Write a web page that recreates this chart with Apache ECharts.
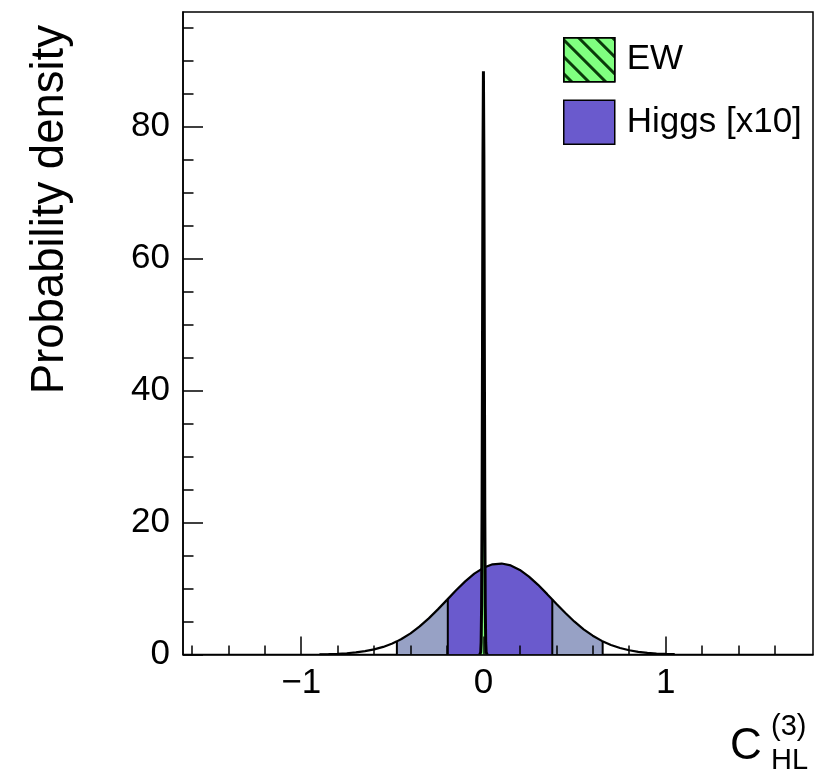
<!DOCTYPE html>
<html><head><meta charset="utf-8">
<script src="https://cdn.jsdelivr.net/npm/echarts@6/dist/echarts.min.js"></script>
<style>html,body{margin:0;padding:0;background:#fff}#c{width:826px;height:780px}</style>
</head><body><div id="c"></div>
<script>
// Higgs posterior (scaled x10)
const higgsX = [-0.9,-0.85,-0.8,-0.75,-0.7,-0.65,-0.6,-0.55,-0.5,-0.475,-0.45,-0.4,-0.35,-0.3,-0.25,-0.2,-0.1955,-0.15,-0.1,-0.05,0,0.05,0.1,0.15,0.2,0.25,0.3,0.35,0.378,0.4,0.45,0.5,0.55,0.6,0.65,0.6545,0.7,0.75,0.8,0.85,0.9,0.95,1.0,1.05];
const higgsY = [0.036,0.065,0.113,0.19,0.31,0.50,0.77,1.15,1.67,1.99,2.35,3.21,4.26,5.48,6.84,8.28,8.41,9.73,11.08,12.25,13.14,13.67,13.79,13.50,12.82,11.81,10.56,9.15,8.34,7.70,6.28,4.97,3.82,2.85,2.06,1.99,1.44,0.98,0.65,0.41,0.26,0.155,0.091,0.051];
// EW posterior (narrow spike)
const ewX = [-0.02,-0.015,-0.0125,-0.01,-0.0075,-0.005,-0.0025,0,0.0025,0.005,0.0075,0.01,0.0125,0.015,0.02];
const ewY = [0,0.34,1.87,7.48,22.0,47.6,75.7,88.4,75.7,47.6,22.0,7.48,1.87,0.34,0];
// credible intervals
const band68 = [-0.1955, 0.378];
const band95 = [-0.475, 0.6545];
// ticks
const xMajorTicks = [-1, 0, 1];
const xMinorTicks = [-1.6,-1.4,-1.2,-0.8,-0.6,-0.4,-0.2,0.2,0.4,0.6,0.8,1.2,1.4,1.6];
const yMajorTicks = [0, 20, 40, 60, 80];
const yMinorTicks = [5,10,15,25,30,35,45,50,55,65,70,75,85,90,95];
const seriesNames = ['EW', 'Higgs [x10]'];

const FONT = "'Liberation Sans', Arial, Helvetica, sans-serif";
const XMIN = -1.649, XMAX = 1.809, YMIN = 0, YMAX = 97.4;

const pts = higgsX.map((x, i) => [x, higgsY[i]]);
const inBand = b => pts.filter(p => p[0] >= b[0] - 1e-9 && p[0] <= b[1] + 1e-9);
const yAt = x => higgsY[higgsX.indexOf(x)];
const ewPts = ewX.map((x, i) => [x, ewY[i]]);

const bounds = [band95[0], band68[0], band68[1], band95[1]];
const boundSeries = bounds.map((x, i) => ({
  name: 'bound' + i, type: 'line', data: [[x, 0], [x, yAt(x)]], symbol: 'none',
  lineStyle: { color: '#000', width: 2 }, silent: true, z: 4, animation: false
}));

const tickLine = { color: '#000', width: 1.5 };
const chart = echarts.init(document.getElementById('c'), null, { renderer: 'canvas' });
chart.setOption({
  animation: false,
  backgroundColor: '#fff',
  grid: { left: 183, right: 13, top: 12, bottom: 125.5, show: true, borderColor: '#000', borderWidth: 1.5, containLabel: false },
  xAxis: [
    { type: 'value', min: XMIN, max: XMAX, position: 'bottom', z: 10,
      axisLine: { show: true, onZero: false, lineStyle: tickLine },
      axisTick: { show: true, inside: true, length: 18, lineStyle: tickLine, customValues: xMajorTicks },
      axisLabel: { show: true, customValues: xMajorTicks, fontSize: 35, fontFamily: FONT, color: '#000', margin: 11,
        formatter: v => (v < 0 ? '\u2212' + Math.abs(v) : String(v)) },
      splitLine: { show: false } },
    { type: 'value', min: XMIN, max: XMAX, position: 'bottom', z: 10,
      axisLine: { show: false, onZero: false },
      axisTick: { show: true, inside: true, length: 9, lineStyle: tickLine, customValues: xMinorTicks },
      axisLabel: { show: false }, splitLine: { show: false } }
  ],
  yAxis: [
    { type: 'value', min: YMIN, max: YMAX, position: 'left', z: 10,
      axisLine: { show: true, onZero: false, lineStyle: tickLine },
      axisTick: { show: true, inside: true, length: 20, lineStyle: tickLine, customValues: yMajorTicks },
      axisLabel: { show: true, customValues: yMajorTicks, fontSize: 35, fontFamily: FONT, color: '#000', margin: 13 },
      splitLine: { show: false } },
    { type: 'value', min: YMIN, max: YMAX, position: 'left', z: 10,
      axisLine: { show: false, onZero: false },
      axisTick: { show: true, inside: true, length: 10.5, lineStyle: tickLine, customValues: yMinorTicks },
      axisLabel: { show: false }, splitLine: { show: false } }
  ],
  legend: {
    left: 558, top: 32, orient: 'vertical', itemWidth: 51, itemHeight: 44, itemGap: 17,
    selectedMode: false,
    textStyle: { fontSize: 35, fontFamily: FONT, color: '#000', padding: [0, 0, 0, 7] },
    data: [
      { name: seriesNames[0], icon: 'rect', itemStyle: { color: '#80ff80', borderColor: '#000', borderWidth: 1.5,
        decal: { symbol: 'rect', dashArrayX: [1, 0], dashArrayY: [2.5, 9], rotation: Math.PI / 4, color: '#0a3a0a' } } },
      { name: seriesNames[1], icon: 'rect', itemStyle: { color: '#6a5acd', borderColor: '#000', borderWidth: 1.5 } }
    ]
  },
  graphic: [
    { type: 'text', x: 50, y: 25, rotation: Math.PI / 2, silent: true,
      style: { text: 'Probability density', font: '45.5px ' + FONT, fill: '#000', textAlign: 'right', textVerticalAlign: 'middle' } },
    { type: 'text', x: 730, y: 747, silent: true,
      style: { text: 'C', font: '44px ' + FONT, fill: '#000', textAlign: 'left', textVerticalAlign: 'middle' } },
    { type: 'text', x: 771, y: 727, silent: true,
      style: { text: '(3)', font: '29px ' + FONT, fill: '#000', textAlign: 'left', textVerticalAlign: 'middle' } },
    { type: 'text', x: 771, y: 761, silent: true,
      style: { text: 'HL', font: '29px ' + FONT, fill: '#000', textAlign: 'left', textVerticalAlign: 'middle' } }
  ],
  series: [
    { name: 'band95', type: 'line', data: inBand(band95), symbol: 'none', silent: true, z: 2,
      lineStyle: { width: 0 }, areaStyle: { color: '#97a1c5', opacity: 1 } },
    { name: seriesNames[1], type: 'line', data: inBand(band68), symbol: 'none', silent: true, z: 3,
      itemStyle: { color: '#6a5acd' }, lineStyle: { width: 0 }, areaStyle: { color: '#6a5acd', opacity: 1 } },
    ...boundSeries,
    { name: 'higgsCurve', type: 'line', data: pts, symbol: 'none', silent: true, z: 5,
      lineStyle: { color: '#000', width: 2.2 } },
    { name: seriesNames[0], type: 'line', data: ewPts, symbol: 'none', silent: true, z: 6,
      itemStyle: { color: '#80ff80' }, lineStyle: { color: '#000', width: 3 }, areaStyle: { color: '#80ff80', opacity: 1 } }
  ]
});
</script>
</body></html>
